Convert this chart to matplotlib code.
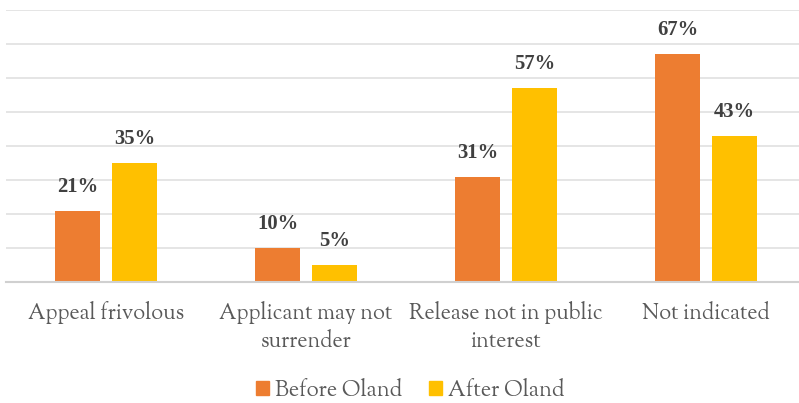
import matplotlib
matplotlib.use("Agg")
import matplotlib.pyplot as plt
from matplotlib import font_manager as fm
import numpy as np
from matplotlib.patches import Patch

categories = ["Appeal frivolous", "Applicant may not\nsurrender", "Release not in public\ninterest", "Not indicated"]
before = [21, 10, 31, 67]
after = [35, 5, 57, 43]
series_names = ["Before Oland", "After Oland"]

fl = fm.fontManager.ttflist
names = {f.name for f in fl}
reg_cands = ["Sorts Mill Goudy", "Goudy Bookletter 1911", "EB Garamond", "Liberation Serif"]
reg_font = next(n for n in reg_cands + ["DejaVu Serif"] if n in names)
def has_bold(n):
    return any(f.name == n and (f.weight in ("bold", 700, 600, "semibold", "demibold") or (isinstance(f.weight, int) and f.weight >= 600)) for f in fl)
bold_font = next((n for n in ["Sorts Mill Goudy", "EB Garamond", "Liberation Serif"] if n in names and has_bold(n)), "DejaVu Serif")

plt.rcParams['font.family'] = [reg_font, 'DejaVu Serif']

fig = plt.figure(figsize=(7.99, 4.03), dpi=100)
renderer = fig.canvas.get_renderer()

def fit_size(s, target_px, family, weight="normal"):
    t = fig.text(0, 0, s, fontsize=10, family=family, fontweight=weight)
    wpx = t.get_window_extent(renderer).width
    t.remove()
    return 10 * target_px / wpx

cat_size = fit_size("Appeal frivolous", 155, reg_font)
lab_size = fit_size("21%", 41, bold_font, "bold")
leg_size = fit_size("Before Oland", 126, reg_font)

ax = fig.add_axes([6/799, 1-282/403, 800/799, 272/403])

x = np.arange(len(categories))
w = 0.225
gap = 0.06
c1, c2 = "#ED7D31", "#FFC000"
b1 = ax.bar(x - (w+gap)/2, before, w, color=c1, zorder=3)
b2 = ax.bar(x + (w+gap)/2, after, w, color=c2, zorder=3)

for bars, vals in ((b1, before), (b2, after)):
    for r, v in zip(bars, vals):
        ax.annotate(f"{v}%", (r.get_x()+r.get_width()/2, v), xytext=(0, 10),
                    textcoords="offset points", ha="center", va="bottom",
                    fontsize=lab_size, fontweight="bold", family=bold_font, color="#404040")

ax.set_xlim(-0.5, len(categories)-0.5)
ax.set_ylim(0, 80)
ax.set_yticks(np.arange(0, 81, 10))
ax.set_yticklabels([])
ax.tick_params(axis="y", length=0)
ax.yaxis.grid(True, color="#e3e3e3", linewidth=1.3, zorder=0)
for s in ["top", "right", "left"]:
    ax.spines[s].set_visible(False)
ax.spines["bottom"].set_color("#d0d0d0")
ax.spines["bottom"].set_linewidth(1.5)
ax.spines["bottom"].set_zorder(4)
ax.set_xticks(x)
ax.set_xticklabels(categories, fontsize=cat_size, color="#595959", linespacing=1.25, va="top")
ax.tick_params(axis="x", length=0, pad=14)

px2pt = 72 / 100
handles = [Patch(color=c1), Patch(color=c2)]
fig.legend(handles, series_names, loc="center", bbox_to_anchor=(410/799, 1-389/403), ncol=2,
           frameon=False, fontsize=leg_size, labelcolor="#595959",
           handlelength=13*px2pt/leg_size, handleheight=13*px2pt/leg_size,
           handletextpad=6*px2pt/leg_size, columnspacing=27*px2pt/leg_size,
           borderpad=0, borderaxespad=0)

fig.savefig("out.png", dpi=100)
